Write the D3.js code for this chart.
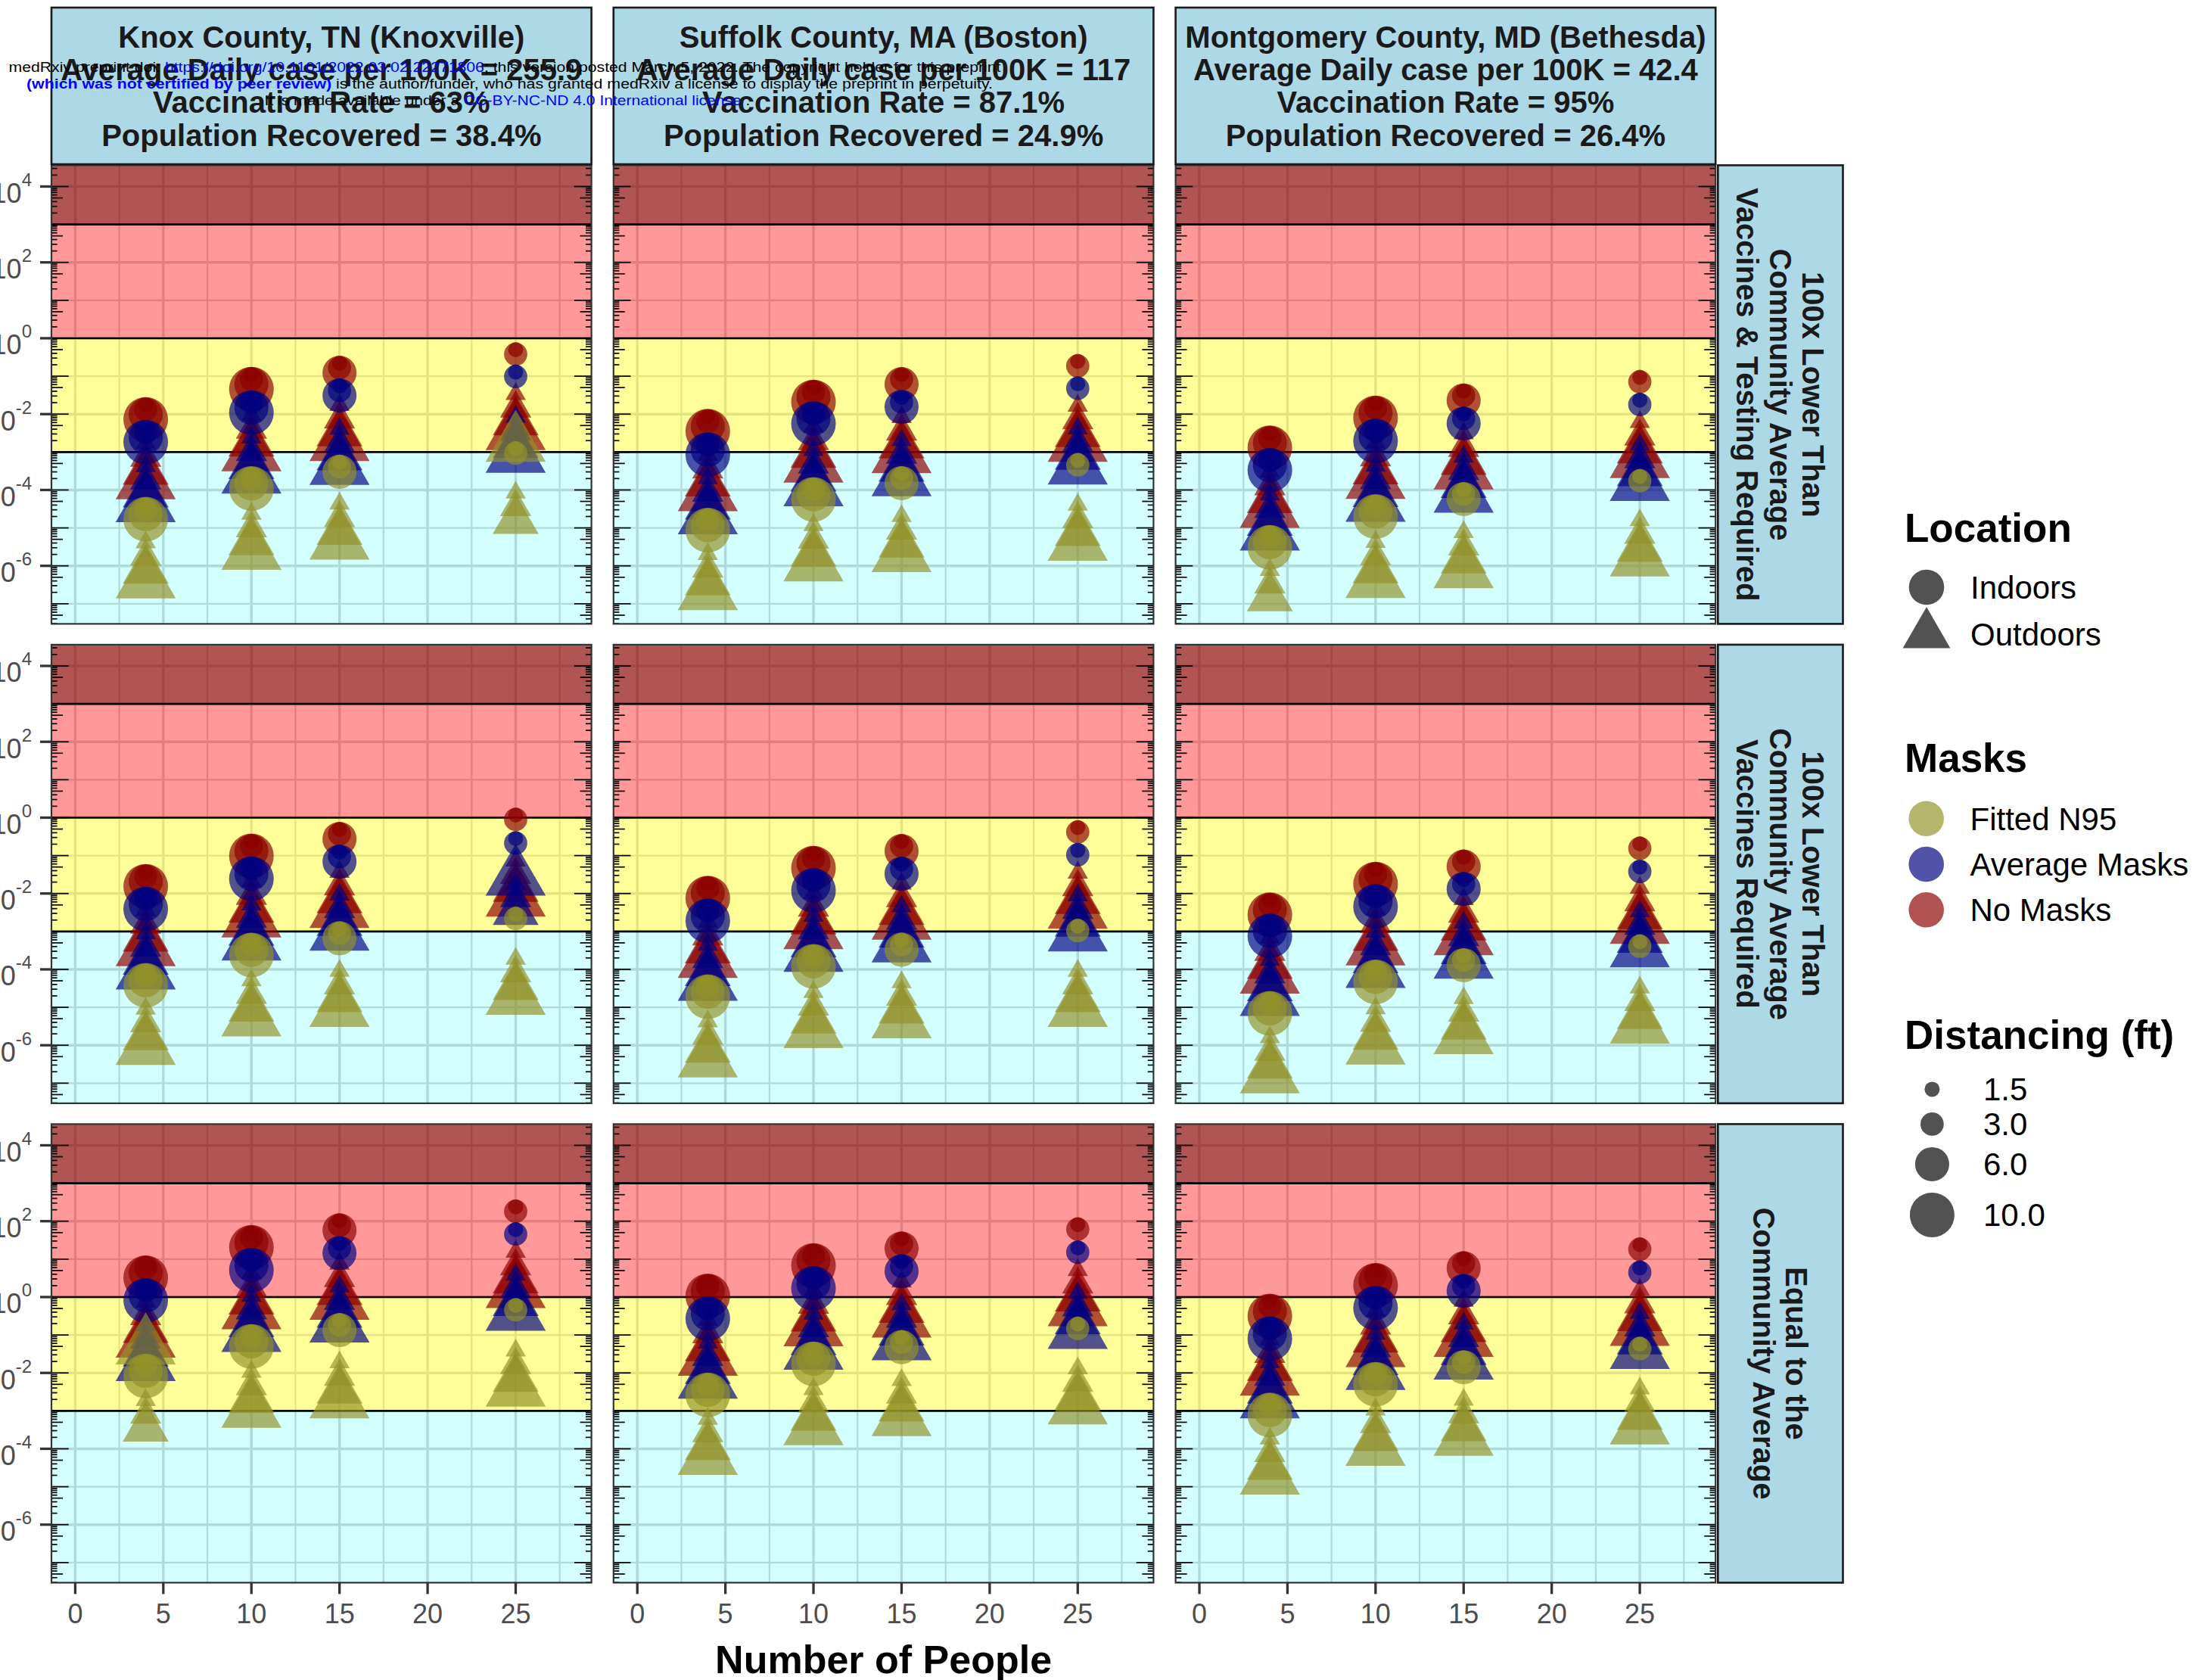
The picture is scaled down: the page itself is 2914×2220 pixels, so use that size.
<!DOCTYPE html>
<html><head><meta charset="utf-8">
<script src="https://cdn.jsdelivr.net/npm/d3@7"></script>
<style>html,body{margin:0;padding:0;background:#fff;}svg{display:block;font-family:"Liberation Sans",Arial,sans-serif;}</style>
</head><body><svg id="chart" width="2914" height="2220"></svg>
<script>
// ---------- categories & labels ----------
const people = [4, 10, 15, 25];
const distances = [1.5, 3, 6, 10];
const xTickValues = [0, 5, 10, 15, 20, 25];
const yTickExponents = [-6, -4, -2, 0, 2, 4];
const bandThresholds = [1e-3, 1, 1e3];
const countyStrips = [
  ["Knox County, TN (Knoxville)", "Average Daily case per 100K = 255.9", "Vaccination Rate = 63%", "Population Recovered = 38.4%"],
  ["Suffolk County, MA (Boston)", "Average Daily case per 100K = 117", "Vaccination Rate = 87.1%", "Population Recovered = 24.9%"],
  ["Montgomery County, MD (Bethesda)", "Average Daily case per 100K = 42.4", "Vaccination Rate = 95%", "Population Recovered = 26.4%"]
];
const scenarioStrips = [
  ["100x Lower Than", "Community Average", "Vaccines & Testing Required"],
  ["100x Lower Than", "Community Average", "Vaccines Required"],
  ["Equal to the", "Community Average"]
];
const maskLegendOrder = ["Fitted N95", "Average Masks", "No Masks"];
const locationNames = ["Indoors", "Outdoors"];

// ---------- values: log10(risk), per people group [4,10,15,25] × distancing [1.5,3,6,10] ----------
// Row 1: 100x lower, vaccines & testing
const knoxTesting_inNone  = [[-1.76,-1.88,-2.01,-2.14],[-0.96,-1.08,-1.21,-1.34],[-0.66,-0.78,-0.91],[-0.30,-0.42]];
const knoxTesting_inAvg   = [[-2.36,-2.48,-2.61,-2.74],[-1.58,-1.70,-1.83,-1.96],[-1.26,-1.38,-1.51],[-0.89,-1.01]];
const knoxTesting_inN95   = [[-4.39,-4.51,-4.64,-4.77],[-3.58,-3.70,-3.83,-3.96],[-3.27,-3.39,-3.52],[-2.91,-3.03]];
const knoxTesting_outNone = [[-2.77,-3.15,-3.51,-3.79],[-2.03,-2.41,-2.77,-3.05],[-1.76,-2.14,-2.50,-2.78],[-1.47,-1.85,-2.21,-2.49]];
const knoxTesting_outAvg  = [[-3.37,-3.75,-4.11,-4.39],[-2.62,-3.00,-3.36,-3.64],[-2.39,-2.77,-3.13,-3.41],[-2.07,-2.45,-2.81,-3.09]];
const knoxTesting_outN95  = [[-5.38,-5.76,-6.12,-6.40],[-4.63,-5.01,-5.37,-5.65],[-4.36,-4.74,-5.10,-5.38],[-4.07,-4.45,-4.81,-2.80]];

const suffolkTesting_inNone  = [[-2.07,-2.19,-2.32,-2.45],[-1.30,-1.42,-1.55,-1.68],[-0.96,-1.08,-1.21],[-0.61,-0.73]];
const suffolkTesting_inAvg   = [[-2.69,-2.81,-2.94,-3.07],[-1.87,-1.99,-2.12,-2.25],[-1.56,-1.68,-1.81],[-1.20,-1.32]];
const suffolkTesting_inN95   = [[-4.68,-4.80,-4.93,-5.06],[-3.87,-3.99,-4.12,-4.25],[-3.57,-3.69,-3.82],[-3.22,-3.34]];
const suffolkTesting_outNone = [[-3.08,-3.46,-3.82,-4.10],[-2.33,-2.71,-3.07,-3.35],[-2.08,-2.46,-2.82,-3.10],[-1.78,-2.16,-2.52,-2.80]];
const suffolkTesting_outAvg  = [[-3.69,-4.07,-4.43,-4.71],[-2.95,-3.33,-3.69,-3.97],[-2.69,-3.07,-3.43,-3.71],[-2.38,-2.76,-3.12,-3.40]];
const suffolkTesting_outN95  = [[-5.69,-6.07,-6.43,-6.71],[-4.93,-5.31,-5.67,-5.95],[-4.69,-5.07,-5.43,-5.71],[-4.39,-4.77,-5.13,-5.41]];

const montgomeryTesting_inNone  = [[-2.51,-2.63,-2.76,-2.89],[-1.72,-1.84,-1.97,-2.10],[-1.39,-1.51,-1.64],[-1.03,-1.15]];
const montgomeryTesting_inAvg   = [[-3.10,-3.22,-3.35,-3.48],[-2.33,-2.45,-2.58,-2.71],[-2.00,-2.12,-2.25],[-1.63,-1.75]];
const montgomeryTesting_inN95   = [[-5.13,-5.25,-5.38,-5.51],[-4.32,-4.44,-4.57,-4.70],[-3.99,-4.11,-4.24],[-3.64,-3.76]];
const montgomeryTesting_outNone = [[-3.52,-3.90,-4.26,-4.54],[-2.76,-3.14,-3.50,-3.78],[-2.51,-2.89,-3.25,-3.53],[-2.21,-2.59,-2.95,-3.23]];
const montgomeryTesting_outAvg  = [[-4.12,-4.50,-4.86,-5.14],[-3.36,-3.74,-4.10,-4.38],[-3.12,-3.50,-3.86,-4.14],[-2.81,-3.19,-3.55,-3.83]];
const montgomeryTesting_outN95  = [[-6.11,-6.49,-6.85,-7.13],[-5.37,-5.75,-6.11,-6.39],[-5.11,-5.49,-5.85,-6.13],[-4.80,-5.18,-5.54,-5.82]];

// Row 2: 100x lower, vaccines required
const knoxVaccine_inNone  = [[-1.43,-1.55,-1.68,-1.81],[-0.63,-0.75,-0.88,-1.01],[-0.31,-0.43,-0.56],[0.07,-0.05]];
const knoxVaccine_inAvg   = [[-2.03,-2.15,-2.28,-2.41],[-1.23,-1.35,-1.48,-1.61],[-0.91,-1.03,-1.16],[-0.55,-0.67]];
const knoxVaccine_inN95   = [[-4.04,-4.16,-4.29,-4.42],[-3.24,-3.36,-3.49,-3.62],[-2.93,-3.05,-3.18],[-2.54,-2.66]];
const knoxVaccine_outNone = [[-2.44,-2.82,-3.18,-3.46],[-1.68,-2.06,-2.42,-2.70],[-1.43,-1.81,-2.17,-2.45],[-1.13,-1.51,-1.87,-2.15]];
const knoxVaccine_outAvg  = [[-3.05,-3.43,-3.79,-4.07],[-2.29,-2.67,-3.03,-3.31],[-2.03,-2.41,-2.77,-3.05],[-1.74,-2.12,-2.48,-1.60]];
const knoxVaccine_outN95  = [[-5.04,-5.42,-5.78,-6.06],[-4.29,-4.67,-5.03,-5.31],[-4.04,-4.42,-4.78,-5.06],[-3.72,-4.10,-4.46,-4.74]];

const suffolkVaccine_inNone  = [[-1.74,-1.86,-1.99,-2.12],[-0.95,-1.07,-1.20,-1.33],[-0.63,-0.75,-0.88],[-0.26,-0.38]];
const suffolkVaccine_inAvg   = [[-2.34,-2.46,-2.59,-2.72],[-1.54,-1.66,-1.79,-1.92],[-1.23,-1.35,-1.48],[-0.86,-0.98]];
const suffolkVaccine_inN95   = [[-4.34,-4.46,-4.59,-4.72],[-3.54,-3.66,-3.79,-3.92],[-3.23,-3.35,-3.48],[-2.86,-2.98]];
const suffolkVaccine_outNone = [[-2.75,-3.13,-3.49,-3.77],[-1.99,-2.37,-2.73,-3.01],[-1.74,-2.12,-2.48,-2.76],[-1.45,-1.83,-2.19,-2.47]];
const suffolkVaccine_outAvg  = [[-3.35,-3.73,-4.09,-4.37],[-2.59,-2.97,-3.33,-3.61],[-2.34,-2.72,-3.08,-3.36],[-2.05,-2.43,-2.79,-3.07]];
const suffolkVaccine_outN95  = [[-5.37,-5.75,-6.11,-6.39],[-4.60,-4.98,-5.34,-5.62],[-4.34,-4.72,-5.08,-5.36],[-4.04,-4.42,-4.78,-5.06]];

const montgomeryVaccine_inNone  = [[-2.18,-2.30,-2.43,-2.56],[-1.37,-1.49,-1.62,-1.75],[-1.04,-1.16,-1.29],[-0.69,-0.81]];
const montgomeryVaccine_inAvg   = [[-2.74,-2.86,-2.99,-3.12],[-1.96,-2.08,-2.21,-2.34],[-1.63,-1.75,-1.88],[-1.30,-1.42]];
const montgomeryVaccine_inN95   = [[-4.78,-4.90,-5.03,-5.16],[-3.95,-4.07,-4.20,-4.33],[-3.64,-3.76,-3.89],[-3.27,-3.39]];
const montgomeryVaccine_outNone = [[-3.16,-3.54,-3.90,-4.18],[-2.42,-2.80,-3.16,-3.44],[-2.15,-2.53,-2.89,-3.17],[-1.85,-2.23,-2.59,-2.87]];
const montgomeryVaccine_outAvg  = [[-3.75,-4.13,-4.49,-4.77],[-3.01,-3.39,-3.75,-4.03],[-2.77,-3.15,-3.51,-3.79],[-2.47,-2.85,-3.21,-3.49]];
const montgomeryVaccine_outN95  = [[-5.79,-6.17,-6.53,-6.81],[-5.03,-5.41,-5.77,-6.05],[-4.76,-5.14,-5.50,-5.78],[-4.48,-4.86,-5.22,-5.50]];

// Row 3: equal to the community average
const knoxEqual_inNone  = [[0.89,0.77,0.64,0.51],[1.69,1.57,1.44,1.31],[2.01,1.89,1.76],[2.38,2.26]];
const knoxEqual_inAvg   = [[0.29,0.17,0.04,-0.09],[1.09,0.97,0.84,0.71],[1.41,1.29,1.16],[1.78,1.66]];
const knoxEqual_inN95   = [[-1.70,-1.82,-1.95,-2.08],[-0.92,-1.04,-1.17,-1.30],[-0.62,-0.74,-0.87],[-0.22,-0.34]];
const knoxEqual_outNone = [[-0.12,-0.50,-0.86,-1.14],[0.63,0.25,-0.11,-0.39],[0.88,0.50,0.14,-0.14],[1.19,0.81,0.45,0.17]];
const knoxEqual_outAvg  = [[-0.74,-1.12,-1.48,-1.76],[0.03,-0.35,-0.71,-0.99],[0.28,-0.10,-0.46,-0.74],[0.59,0.21,-0.15,-0.43]];
const knoxEqual_outN95  = [[-2.72,-3.10,-3.46,-1.32],[-1.97,-2.35,-2.71,-2.99],[-1.72,-2.10,-2.46,-2.74],[-1.41,-1.79,-2.15,-2.43]];

const suffolkEqual_inNone  = [[0.41,0.29,0.16,0.03],[1.21,1.09,0.96,0.83],[1.53,1.41,1.28],[1.91,1.79]];
const suffolkEqual_inAvg   = [[-0.19,-0.31,-0.44,-0.57],[0.61,0.49,0.36,0.23],[0.93,0.81,0.68],[1.30,1.18]];
const suffolkEqual_inN95   = [[-2.20,-2.32,-2.45,-2.58],[-1.38,-1.50,-1.63,-1.76],[-1.07,-1.19,-1.32],[-0.71,-0.83]];
const suffolkEqual_outNone = [[-0.60,-0.98,-1.34,-1.62],[0.18,-0.20,-0.56,-0.84],[0.41,0.03,-0.33,-0.61],[0.71,0.33,-0.03,-0.31]];
const suffolkEqual_outAvg  = [[-1.20,-1.58,-1.94,-2.22],[-0.44,-0.82,-1.18,-1.46],[-0.19,-0.57,-0.93,-1.21],[0.11,-0.27,-0.63,-0.91]];
const suffolkEqual_outN95  = [[-3.21,-3.59,-3.95,-4.23],[-2.43,-2.81,-3.17,-3.45],[-2.19,-2.57,-2.93,-3.21],[-1.88,-2.26,-2.62,-2.90]];

const montgomeryEqual_inNone  = [[-0.12,-0.24,-0.37,-0.50],[0.69,0.57,0.44,0.31],[1.01,0.89,0.76],[1.38,1.26]];
const montgomeryEqual_inAvg   = [[-0.72,-0.84,-0.97,-1.10],[0.09,-0.03,-0.16,-0.29],[0.41,0.29,0.16],[0.77,0.65]];
const montgomeryEqual_inN95   = [[-2.73,-2.85,-2.98,-3.11],[-1.92,-2.04,-2.17,-2.30],[-1.60,-1.72,-1.85],[-1.24,-1.36]];
const montgomeryEqual_outNone = [[-1.12,-1.50,-1.86,-2.14],[-0.37,-0.75,-1.11,-1.39],[-0.10,-0.48,-0.84,-1.12],[0.19,-0.19,-0.55,-0.83]];
const montgomeryEqual_outAvg  = [[-1.72,-2.10,-2.46,-2.74],[-0.97,-1.35,-1.71,-1.99],[-0.70,-1.08,-1.44,-1.72],[-0.42,-0.80,-1.16,-1.44]];
const montgomeryEqual_outN95  = [[-3.73,-4.11,-4.47,-4.75],[-2.97,-3.35,-3.71,-3.99],[-2.71,-3.09,-3.45,-3.73],[-2.41,-2.79,-3.15,-3.43]];

const panels = [
  {row:0,col:0,inNone:knoxTesting_inNone,inAvg:knoxTesting_inAvg,inN95:knoxTesting_inN95,outNone:knoxTesting_outNone,outAvg:knoxTesting_outAvg,outN95:knoxTesting_outN95},
  {row:0,col:1,inNone:suffolkTesting_inNone,inAvg:suffolkTesting_inAvg,inN95:suffolkTesting_inN95,outNone:suffolkTesting_outNone,outAvg:suffolkTesting_outAvg,outN95:suffolkTesting_outN95},
  {row:0,col:2,inNone:montgomeryTesting_inNone,inAvg:montgomeryTesting_inAvg,inN95:montgomeryTesting_inN95,outNone:montgomeryTesting_outNone,outAvg:montgomeryTesting_outAvg,outN95:montgomeryTesting_outN95},
  {row:1,col:0,inNone:knoxVaccine_inNone,inAvg:knoxVaccine_inAvg,inN95:knoxVaccine_inN95,outNone:knoxVaccine_outNone,outAvg:knoxVaccine_outAvg,outN95:knoxVaccine_outN95},
  {row:1,col:1,inNone:suffolkVaccine_inNone,inAvg:suffolkVaccine_inAvg,inN95:suffolkVaccine_inN95,outNone:suffolkVaccine_outNone,outAvg:suffolkVaccine_outAvg,outN95:suffolkVaccine_outN95},
  {row:1,col:2,inNone:montgomeryVaccine_inNone,inAvg:montgomeryVaccine_inAvg,inN95:montgomeryVaccine_inN95,outNone:montgomeryVaccine_outNone,outAvg:montgomeryVaccine_outAvg,outN95:montgomeryVaccine_outN95},
  {row:2,col:0,inNone:knoxEqual_inNone,inAvg:knoxEqual_inAvg,inN95:knoxEqual_inN95,outNone:knoxEqual_outNone,outAvg:knoxEqual_outAvg,outN95:knoxEqual_outN95},
  {row:2,col:1,inNone:suffolkEqual_inNone,inAvg:suffolkEqual_inAvg,inN95:suffolkEqual_inN95,outNone:suffolkEqual_outNone,outAvg:suffolkEqual_outAvg,outN95:suffolkEqual_outN95},
  {row:2,col:2,inNone:montgomeryEqual_inNone,inAvg:montgomeryEqual_inAvg,inN95:montgomeryEqual_inN95,outNone:montgomeryEqual_outNone,outAvg:montgomeryEqual_outAvg,outN95:montgomeryEqual_outN95}
];

// ---------- styles ----------
const maskColor = d3.scaleOrdinal().domain(["No Masks","Average Masks","Fitted N95"]).range(["#8B0000","#000080","#92922A"]);
const pointAlpha = 0.68;
const FONT = '"Liberation Sans", Arial, sans-serif';

// ---------- layout ----------
const L = {left0:68, colStep:742.8, pw:713.6, top0:218.4, rowStep:633.5, ph:606};
const panelX = c => L.left0 + c*L.colStep;
const panelY = r => L.top0 + r*L.rowStep;

const x = d3.scaleLinear().domain([-1.35, 29.3]).range([0, L.pw]);
const y = d3.scaleLog().domain([Math.pow(10,-7.53), Math.pow(10,4.56)]).range([L.ph, 0]);
const areaScale = d3.scaleLinear().domain([1.5, 10]).range([10*10, 29.5*29.5]);
const radius = d => Math.sqrt(areaScale(d));
const symbolPath = (loc, dist) => d3.symbol().type(loc === "Indoors" ? d3.symbolCircle : d3.symbolTriangle).size(Math.PI*radius(dist)*radius(dist))();

const svg = d3.select("#chart");
svg.append("rect").attr("width",2914).attr("height",2220).attr("fill","#fff");
const defs = svg.append("defs");

function panelPoints(p){
  const groups = [
    ["No Masks","Indoors",p.inNone],["No Masks","Outdoors",p.outNone],
    ["Average Masks","Indoors",p.inAvg],["Average Masks","Outdoors",p.outAvg],
    ["Fitted N95","Indoors",p.inN95],["Fitted N95","Outdoors",p.outN95]];
  const pts = [];
  groups.forEach(([mask,loc,arr]) => arr.forEach((vals,pi) => vals.forEach((e,di) =>
    pts.push({mask, loc, people:people[pi], dist:distances[di], risk:Math.pow(10,e)}))));
  return pts.filter(d => d.risk >= 1e-7 && d.risk <= 1e4);
}

const minorX = d3.range(2.5, 29.3, 5);
const minorYExp = [-7,-5,-3,-1,1,3];

panels.forEach((p, i) => {
  const g = svg.append("g").attr("transform", `translate(${panelX(p.col)},${panelY(p.row)})`);
  const clipId = "clip" + i;
  defs.append("clipPath").attr("id", clipId).append("rect").attr("width", L.pw).attr("height", L.ph);
  g.append("rect").attr("width", L.pw).attr("height", L.ph).attr("fill", "#fff");
  // grid
  const grid = g.append("g").attr("stroke", "#d3d3d3");
  grid.selectAll(".vmin").data(minorX).join("line").attr("x1", d=>x(d)).attr("x2", d=>x(d)).attr("y1",0).attr("y2",L.ph).attr("stroke-width",2.2);
  grid.selectAll(".hmin").data(minorYExp).join("line").attr("y1", d=>y(Math.pow(10,d))).attr("y2", d=>y(Math.pow(10,d))).attr("x1",0).attr("x2",L.pw).attr("stroke-width",2.2);
  grid.selectAll(".vmaj").data(xTickValues).join("line").attr("x1", d=>x(d)).attr("x2", d=>x(d)).attr("y1",0).attr("y2",L.ph).attr("stroke-width",3.4);
  grid.selectAll(".hmaj").data(yTickExponents).join("line").attr("y1", d=>y(Math.pow(10,d))).attr("y2", d=>y(Math.pow(10,d))).attr("x1",0).attr("x2",L.pw).attr("stroke-width",3.4);
  // risk bands
  const bands = [
    {y0: L.ph, y1: y(bandThresholds[0]), fill: "rgba(0,255,255,0.17)"},
    {y0: y(bandThresholds[0]), y1: y(bandThresholds[1]), fill: "rgba(255,255,0,0.4)"},
    {y0: y(bandThresholds[1]), y1: y(bandThresholds[2]), fill: "rgba(255,0,0,0.4)"},
    {y0: y(bandThresholds[2]), y1: 0, fill: "rgba(139,0,0,0.67)"}
  ];
  g.selectAll(".band").data(bands).join("rect").attr("x",0).attr("width",L.pw)
    .attr("y", d=>d.y1).attr("height", d=>d.y0-d.y1).attr("fill", d=>d.fill);
  g.selectAll(".thr").data(bandThresholds).join("line").attr("x1",0).attr("x2",L.pw)
    .attr("y1", d=>y(d)).attr("y2", d=>y(d)).attr("stroke","#000").attr("stroke-width",2.6);
  // log ticks (left & right inside)
  const lt = [];
  for (let k=-8; k<=4; k++) for (let m=1; m<=9; m++) {
    const v = m*Math.pow(10,k);
    if (v >= y.domain()[0] && v <= y.domain()[1]) lt.push({v, len: m===1?22.7:(m===5?15:7.6)});
  }
  const ticksG = g.append("g").attr("stroke","#000").attr("stroke-width",1.7);
  ticksG.selectAll(".ltl").data(lt).join("line").attr("x1",0).attr("x2",d=>d.len).attr("y1",d=>y(d.v)).attr("y2",d=>y(d.v));
  ticksG.selectAll(".ltr").data(lt).join("line").attr("x1",L.pw).attr("x2",d=>L.pw-d.len).attr("y1",d=>y(d.v)).attr("y2",d=>y(d.v));
  // points
  const pg = g.append("g").attr("clip-path", `url(#${clipId})`);
  pg.selectAll("path.pt").data(panelPoints(p)).join("path").attr("class","pt")
    .attr("transform", d=>`translate(${x(d.people)},${y(d.risk)})`)
    .attr("d", d=>symbolPath(d.loc, d.dist))
    .attr("fill", d=>maskColor(d.mask)).attr("fill-opacity", pointAlpha);
  // border
  g.append("rect").attr("width",L.pw).attr("height",L.ph).attr("fill","none").attr("stroke","#333").attr("stroke-width",2.2);

  // y axis (left column)
  if (p.col === 0) {
    const ya = g.append("g");
    ya.selectAll("line").data(yTickExponents).join("line").attr("x1",-15).attr("x2",0)
      .attr("y1", d=>y(Math.pow(10,d))).attr("y2", d=>y(Math.pow(10,d))).attr("stroke","#333").attr("stroke-width",3.3);
    const t = ya.selectAll("text").data(yTickExponents).join("text").attr("x",-26).attr("y", d=>y(Math.pow(10,d))+21.5)
      .attr("text-anchor","end").attr("fill","#4d4d4d").attr("font-size",36);
    t.append("tspan").text("10");
    t.append("tspan").attr("font-size",24).attr("dy",-22).text(d=>String(d));
  }
  // x axis (bottom row)
  if (p.row === 2) {
    const xa = g.append("g").attr("transform", `translate(0,${L.ph})`);
    xa.selectAll("line").data(xTickValues).join("line").attr("x1",d=>x(d)).attr("x2",d=>x(d)).attr("y1",0).attr("y2",15)
      .attr("stroke","#333").attr("stroke-width",3.3);
    xa.selectAll("text").data(xTickValues).join("text").attr("x",d=>x(d)).attr("y",53.5).attr("text-anchor","middle")
      .attr("fill","#4d4d4d").attr("font-size",36).text(d=>d);
  }
});

// top strips
countyStrips.forEach((lines, c) => {
  const g = svg.append("g").attr("transform", `translate(${panelX(c)},10)`);
  g.append("rect").attr("width",L.pw).attr("height",207).attr("fill","#ADD8E6").attr("stroke","#1a1a1a").attr("stroke-width",2.6);
  g.selectAll("text").data(lines).join("text").attr("x",L.pw/2).attr("y",(d,i)=>103.5+(i-1.5)*43.3+14.3)
    .attr("text-anchor","middle").attr("font-weight","bold").attr("font-size",40).attr("fill","#1a1a1a").text(d=>d);
});
// right strips
scenarioStrips.forEach((lines, r) => {
  const sx = 2270.3, sw = 165.2;
  const g = svg.append("g").attr("transform", `translate(${sx},${panelY(r)})`);
  g.append("rect").attr("width",sw).attr("height",L.ph).attr("fill","#ADD8E6").attr("stroke","#1a1a1a").attr("stroke-width",2.6);
  const n = lines.length;
  const tg = g.append("g").attr("transform", `translate(${sw/2},${L.ph/2}) rotate(90)`);
  tg.selectAll("text").data(lines).join("text").attr("x",0).attr("y",(d,i)=>(i-(n-1)/2)*43.5+14.3)
    .attr("text-anchor","middle").attr("font-weight","bold").attr("font-size",40).attr("fill","#1a1a1a").text(d=>d);
});

// x axis title
svg.append("text").attr("x", (panelX(0)+panelX(2)+L.pw)/2).attr("y",2211).attr("text-anchor","middle")
  .attr("font-weight","bold").attr("font-size",52).attr("fill","#000").text("Number of People");

// ---------- legends ----------
const leg = svg.append("g");
const titleX = 2517;
// Location
leg.append("text").attr("x",titleX).attr("y",716).attr("font-weight","bold").attr("font-size",53).text("Location");
locationNames.forEach((nm, i) => {
  const cy = 776 + i*62.3;
  leg.append("path").attr("transform",`translate(2546,${cy})`)
    .attr("d", d3.symbol().type(nm==="Indoors"?d3.symbolCircle:d3.symbolTriangle).size(Math.PI*23.3*23.3)())
    .attr("fill","#000").attr("fill-opacity",pointAlpha);
  leg.append("text").attr("x",2604).attr("y",cy+15).attr("font-size",42).text(nm);
});
// Masks
leg.append("text").attr("x",titleX).attr("y",1020).attr("font-weight","bold").attr("font-size",53).text("Masks");
maskLegendOrder.forEach((nm, i) => {
  const cy = 1081.7 + i*60.3;
  leg.append("circle").attr("cx",2545.7).attr("cy",cy).attr("r",23.3).attr("fill",maskColor(nm)).attr("fill-opacity",pointAlpha);
  leg.append("text").attr("x",2603.5).attr("y",cy+15).attr("font-size",42).text(nm);
});
// Distancing
leg.append("text").attr("x",titleX).attr("y",1386).attr("font-weight","bold").attr("font-size",53).text("Distancing (ft)");
let cyAcc = 1439.4, prevH = null;
distances.forEach((dv, i) => {
  const h = Math.max(2*radius(dv)+15, 46);
  if (prevH !== null) cyAcc += (prevH + h)/2;
  prevH = h;
  leg.append("circle").attr("cx",2553.4).attr("cy",cyAcc).attr("r",radius(dv)).attr("fill","#000").attr("fill-opacity",pointAlpha);
  leg.append("text").attr("x",2621).attr("y",cyAcc+15).attr("font-size",42).text(d3.format(".1f")(dv));
});

// ---------- medRxiv watermark ----------
const wm = svg.append("g").attr("font-size",18).attr("fill","#000");
const l1 = wm.append("text").attr("x",11.5).attr("y",95).attr("textLength",1311).attr("lengthAdjust","spacingAndGlyphs");
l1.append("tspan").text("medRxiv preprint doi: ");
l1.append("tspan").attr("fill","#0000ff").text("https://doi.org/10.1101/2022.03.02.22271806");
l1.append("tspan").text("; this version posted March 5, 2022. The copyright holder for this preprint");
const l2 = wm.append("text").attr("x",35).attr("y",117).attr("textLength",1277).attr("lengthAdjust","spacingAndGlyphs");
l2.append("tspan").attr("fill","#0000ff").attr("font-weight","bold").text("(which was not certified by peer review)");
l2.append("tspan").text(" is the author/funder, who has granted medRxiv a license to display the preprint in perpetuity.");
const l3 = wm.append("text").attr("x",349.5).attr("y",138.5).attr("textLength",642).attr("lengthAdjust","spacingAndGlyphs");
l3.append("tspan").text("It is made available under a ");
l3.append("tspan").attr("fill","#0000ff").text("CC-BY-NC-ND 4.0 International license");
l3.append("tspan").text(" .");
</script></body></html>
